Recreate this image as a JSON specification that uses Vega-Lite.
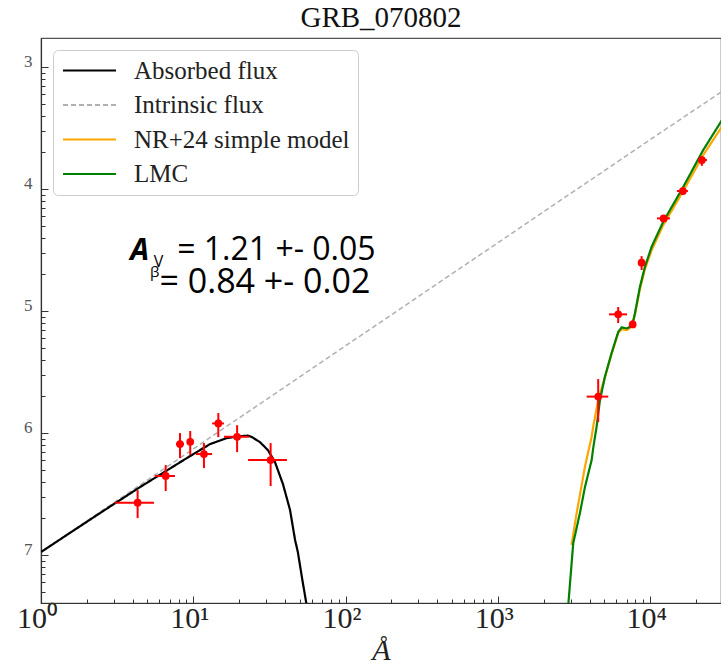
{
  "$schema": "https://vega.github.io/schema/vega-lite/v6.json",
  "width": 680,
  "height": 565,
  "autosize": {"type": "none"},
  "padding": {"left": 41, "top": 38, "right": 0, "bottom": 63},
  "background": "white",
  "title": {"text": "GRB_070802", "font": "Liberation Serif", "fontSize": 29, "fontWeight": "normal", "color": "#111", "offset": 5, "anchor": "middle"},
  "config": {
    "view": {"stroke": "#555", "strokeWidth": 1.2},
    "legend": {
      "symbolType": "M-2.65,0H2.65", "symbolSize": 400, "symbolStrokeWidth": 2, "symbolOffset": 16,
      "labelFont": "Liberation Serif", "labelFontSize": 25, "labelColor": "#222",
      "labelOffset": 32, "padding": 8, "rowPadding": 8.5,
      "fillColor": "white", "strokeColor": "#ccc", "cornerRadius": 5, "labelLimit": 400
    }
  },
  "datasets": {
    "intrinsic": [
      {"series": "Intrinsic flux", "lam": 1, "flux": 1.059e-7},
      {"series": "Intrinsic flux", "lam": 10, "flux": 7.41e-7},
      {"series": "Intrinsic flux", "lam": 100, "flux": 5.19e-6},
      {"series": "Intrinsic flux", "lam": 1000, "flux": 3.63e-5},
      {"series": "Intrinsic flux", "lam": 10000, "flux": 2.54e-4},
      {"series": "Intrinsic flux", "lam": 33000, "flux": 6.9e-4}
    ],
    "absorbed": [
      {"series": "Absorbed flux", "lam": 1, "flux": 1.06e-7},
      {"series": "Absorbed flux", "lam": 2.44, "flux": 2.21e-7},
      {"series": "Absorbed flux", "lam": 4.47, "flux": 3.61e-7},
      {"series": "Absorbed flux", "lam": 6.62, "flux": 4.89e-7},
      {"series": "Absorbed flux", "lam": 9.51, "flux": 6.47e-7},
      {"series": "Absorbed flux", "lam": 12.9, "flux": 8.13e-7},
      {"series": "Absorbed flux", "lam": 16.6, "flux": 9.10e-7},
      {"series": "Absorbed flux", "lam": 20.3, "flux": 9.44e-7},
      {"series": "Absorbed flux", "lam": 22.9, "flux": 9.53e-7},
      {"series": "Absorbed flux", "lam": 24.3, "flux": 9.27e-7},
      {"series": "Absorbed flux", "lam": 27.4, "flux": 8.43e-7},
      {"series": "Absorbed flux", "lam": 30.9, "flux": 7.26e-7},
      {"series": "Absorbed flux", "lam": 34.4, "flux": 5.78e-7},
      {"series": "Absorbed flux", "lam": 38.8, "flux": 3.82e-7},
      {"series": "Absorbed flux", "lam": 43.2, "flux": 2.34e-7},
      {"series": "Absorbed flux", "lam": 46.6, "flux": 1.33e-7},
      {"series": "Absorbed flux", "lam": 48.6, "flux": 1.06e-7},
      {"series": "Absorbed flux", "lam": 51.8, "flux": 6.47e-8},
      {"series": "Absorbed flux", "lam": 55.5, "flux": 3.9e-8}
    ],
    "nr24": [
      {"series": "NR+24 simple model", "lam": 3048, "flux": 1.21e-7},
      {"series": "NR+24 simple model", "lam": 3291, "flux": 2.20e-7},
      {"series": "NR+24 simple model", "lam": 3732, "flux": 5.30e-7},
      {"series": "NR+24 simple model", "lam": 4130, "flux": 9.33e-7},
      {"series": "NR+24 simple model", "lam": 4228, "flux": 1.13e-6},
      {"series": "NR+24 simple model", "lam": 4560, "flux": 1.86e-6},
      {"series": "NR+24 simple model", "lam": 5047, "flux": 2.88e-6},
      {"series": "NR+24 simple model", "lam": 5585, "flux": 4.45e-6},
      {"series": "NR+24 simple model", "lam": 6177, "flux": 6.61e-6},
      {"series": "NR+24 simple model", "lam": 6503, "flux": 7.11e-6},
      {"series": "NR+24 simple model", "lam": 7014, "flux": 6.98e-6},
      {"series": "NR+24 simple model", "lam": 7367, "flux": 7.26e-6},
      {"series": "NR+24 simple model", "lam": 7943, "flux": 9.27e-6},
      {"series": "NR+24 simple model", "lam": 8570, "flux": 1.51e-5},
      {"series": "NR+24 simple model", "lam": 9247, "flux": 2.21e-5},
      {"series": "NR+24 simple model", "lam": 10233, "flux": 3.16e-5},
      {"series": "NR+24 simple model", "lam": 12195, "flux": 5.07e-5},
      {"series": "NR+24 simple model", "lam": 16490, "flux": 9.64e-5},
      {"series": "NR+24 simple model", "lam": 22320, "flux": 1.90e-4},
      {"series": "NR+24 simple model", "lam": 29170, "flux": 3.16e-4},
      {"series": "NR+24 simple model", "lam": 33420, "flux": 4.05e-4}
    ],
    "lmc": [
      {"series": "LMC", "lam": 2880, "flux": 3.5e-8},
      {"series": "LMC", "lam": 3126, "flux": 1.25e-7},
      {"series": "LMC", "lam": 3459, "flux": 2.21e-7},
      {"series": "LMC", "lam": 3732, "flux": 3.61e-7},
      {"series": "LMC", "lam": 4130, "flux": 6.01e-7},
      {"series": "LMC", "lam": 4228, "flux": 7.53e-7},
      {"series": "LMC", "lam": 4453, "flux": 1.13e-6},
      {"series": "LMC", "lam": 4681, "flux": 1.86e-6},
      {"series": "LMC", "lam": 5047, "flux": 2.89e-6},
      {"series": "LMC", "lam": 5585, "flux": 4.53e-6},
      {"series": "LMC", "lam": 6177, "flux": 6.76e-6},
      {"series": "LMC", "lam": 6503, "flux": 7.35e-6},
      {"series": "LMC", "lam": 7014, "flux": 7.21e-6},
      {"series": "LMC", "lam": 7367, "flux": 7.43e-6},
      {"series": "LMC", "lam": 7743, "flux": 8.17e-6},
      {"series": "LMC", "lam": 7943, "flux": 9.57e-6},
      {"series": "LMC", "lam": 8570, "flux": 1.58e-5},
      {"series": "LMC", "lam": 9247, "flux": 2.31e-5},
      {"series": "LMC", "lam": 10233, "flux": 3.37e-5},
      {"series": "LMC", "lam": 12195, "flux": 5.40e-5},
      {"series": "LMC", "lam": 16490, "flux": 1.04e-4},
      {"series": "LMC", "lam": 22320, "flux": 2.09e-4},
      {"series": "LMC", "lam": 29170, "flux": 3.56e-4},
      {"series": "LMC", "lam": 33420, "flux": 4.61e-4}
    ],
    "obs": [
      {"lam": 4.31, "lam_lo": 3.06, "lam_hi": 5.52, "flux": 2.69e-7, "flux_lo": 2.01e-7, "flux_hi": 3.41e-7},
      {"lam": 6.59, "lam_lo": 5.61, "lam_hi": 7.58, "flux": 4.45e-7, "flux_lo": 3.35e-7, "flux_hi": 5.47e-7},
      {"lam": 8.18, "lam_lo": 7.70, "lam_hi": 8.69, "flux": 8.13e-7, "flux_lo": 6.24e-7, "flux_hi": 1.0e-6},
      {"lam": 9.55, "lam_lo": 9.09, "lam_hi": 10.1, "flux": 8.49e-7, "flux_lo": 6.61e-7, "flux_hi": 1.04e-6},
      {"lam": 11.75, "lam_lo": 10.4, "lam_hi": 13.3, "flux": 6.73e-7, "flux_lo": 5.16e-7, "flux_hi": 8.28e-7},
      {"lam": 14.6, "lam_lo": 13.3, "lam_hi": 15.9, "flux": 1.20e-6, "flux_lo": 9.27e-7, "flux_hi": 1.46e-6},
      {"lam": 19.4, "lam_lo": 15.9, "lam_hi": 23.2, "flux": 9.33e-7, "flux_lo": 6.98e-7, "flux_hi": 1.16e-6},
      {"lam": 32.2, "lam_lo": 22.9, "lam_hi": 41.2, "flux": 6.01e-7, "flux_lo": 3.68e-7, "flux_hi": 8.28e-7},
      {"lam": 4560, "lam_lo": 3830, "lam_hi": 5310, "flux": 1.99e-6, "flux_lo": 1.23e-6, "flux_hi": 2.77e-6},
      {"lam": 6170, "lam_lo": 5370, "lam_hi": 7050, "flux": 9.40e-6, "flux_lo": 7.98e-6, "flux_hi": 1.08e-5},
      {"lam": 7680, "lam_lo": 7370, "lam_hi": 8070, "flux": 7.78e-6, "flux_lo": 7.26e-6, "flux_hi": 8.43e-6},
      {"lam": 8790, "lam_lo": 8320, "lam_hi": 9250, "flux": 2.49e-5, "flux_lo": 2.17e-5, "flux_hi": 2.82e-5},
      {"lam": 12270, "lam_lo": 11090, "lam_hi": 13490, "flux": 5.75e-5, "flux_lo": 5.37e-5, "flux_hi": 6.12e-5},
      {"lam": 16410, "lam_lo": 14990, "lam_hi": 17700, "flux": 9.64e-5, "flux_lo": 8.93e-5, "flux_hi": 1.04e-4},
      {"lam": 21880, "lam_lo": 20590, "lam_hi": 23600, "flux": 1.73e-4, "flux_lo": 1.55e-4, "flux_hi": 1.86e-4}
    ],
    "txtA": [{"lam": 3.85, "flux": 2.62e-5, "t": "A"}],
    "txtV": [{"lam": 5.5, "flux": 2.30e-5, "t": "V"}],
    "txt1": [{"lam": 7.84, "flux": 2.62e-5, "t": "= 1.21 +- 0.05"}],
    "txtB": [{"lam": 5.2, "flux": 1.90e-5, "t": "β"}],
    "txt2": [{"lam": 6.0, "flux": 1.41e-5, "t": "= 0.84 +- 0.02"}]
  },
  "resolve": {"axis": {"x": "independent", "y": "independent"}},
  "layer": [
    {
      "data": {"name": "intrinsic"},
      "mark": {"type": "line", "strokeWidth": 1.5, "clip": true},
      "encoding": {
        "x": {"field": "lam", "type": "quantitative",
          "scale": {"type": "log", "domain": [1, 29200], "nice": false},
          "axis": {"orient": "bottom", "values": [1, 10, 100, 1000, 10000], "grid": false,
            "tickSize": -7, "tickColor": "#333", "tickWidth": 1, "domainColor": "#333", "domainWidth": 1.2,
            "labelPadding": 7, "labelOffset": -4, "labelFlush": false, "labelOverlap": false, "labelBound": false,
            "labelExpr": "datum.value == 1 ? '10⁰' : datum.value == 10 ? '10¹' : datum.value == 100 ? '10²' : datum.value == 1000 ? '10³' : '10⁴'",
            "labelFont": "Liberation Serif", "labelFontSize": 30, "labelColor": "#222",
            "title": "Å", "titleFont": "Liberation Serif", "titleFontStyle": "italic", "titleFontWeight": "normal",
            "titleFontSize": 30, "titleColor": "#222", "titlePadding": 2}},
        "y": {"field": "flux", "type": "quantitative",
          "scale": {"type": "log", "domain": [4.05e-8, 1.73e-3], "nice": false},
          "axis": {"orient": "left", "values": [1e-7, 1e-6, 1e-5, 1e-4, 1e-3], "grid": false,
            "tickSize": -7, "tickColor": "#333", "domainColor": "#333", "domainWidth": 1.2,
            "labelPadding": 16, "labelOffset": -6, "labelFlush": false, "labelOverlap": false, "labelBound": false,
            "labelExpr": "'' + round(-log(datum.value) / LN10)",
            "labelFont": "Liberation Serif", "labelFontSize": 17, "labelColor": "#555", "title": null}},
        "color": {"field": "series", "type": "nominal",
          "scale": {"domain": ["Absorbed flux", "Intrinsic flux", "NR+24 simple model", "LMC"], "range": ["#000000", "#b0b0b0", "#ffa500", "#008000"]},
          "legend": {"title": null, "orient": "none", "legendX": 12, "legendY": 12}},
        "strokeDash": {"field": "series", "type": "nominal",
          "scale": {"domain": ["Absorbed flux", "Intrinsic flux", "NR+24 simple model", "LMC"], "range": [[1, 0], [5, 3], [1, 0], [1, 0]]},
          "legend": {"title": null, "orient": "none", "legendX": 12, "legendY": 12}}
      }
    },
    {
      "data": {"name": "absorbed"},
      "mark": {"type": "line", "strokeWidth": 2.2, "clip": true},
      "encoding": {
        "x": {"field": "lam", "type": "quantitative",
          "scale": {"type": "log", "domain": [1, 29200], "nice": false},
          "axis": {"orient": "bottom", "values": [2,3,4,5,6,7,8,9,20,30,40,50,60,70,80,90,200,300,400,500,600,700,800,900,2000,3000,4000,5000,6000,7000,8000,9000,20000],
            "grid": false, "labels": false, "domain": false, "tickSize": -4, "tickColor": "#333", "title": null}},
        "y": {"field": "flux", "type": "quantitative",
          "scale": {"type": "log", "domain": [4.05e-8, 1.73e-3], "nice": false},
          "axis": {"orient": "left", "values": [5e-8,6e-8,7e-8,8e-8,9e-8,2e-7,3e-7,4e-7,5e-7,6e-7,7e-7,8e-7,9e-7,2e-6,3e-6,4e-6,5e-6,6e-6,7e-6,8e-6,9e-6,2e-5,3e-5,4e-5,5e-5,6e-5,7e-5,8e-5,9e-5,2e-4,3e-4,4e-4,5e-4,6e-4,7e-4,8e-4,9e-4],
            "grid": false, "labels": false, "domain": false, "tickSize": -4, "tickColor": "#333", "title": null}},
        "color": {"field": "series", "type": "nominal"},
        "strokeDash": {"field": "series", "type": "nominal"}
      }
    },
    {
      "data": {"name": "nr24"},
      "mark": {"type": "line", "strokeWidth": 2.2, "clip": true},
      "encoding": {
        "x": {"field": "lam", "type": "quantitative", "scale": {"type": "log", "domain": [1, 29200], "nice": false}, "axis": null},
        "y": {"field": "flux", "type": "quantitative", "scale": {"type": "log", "domain": [4.05e-8, 1.73e-3], "nice": false}, "axis": null},
        "color": {"field": "series", "type": "nominal"},
        "strokeDash": {"field": "series", "type": "nominal"}
      }
    },
    {
      "data": {"name": "lmc"},
      "mark": {"type": "line", "strokeWidth": 2.2, "clip": true},
      "encoding": {
        "x": {"field": "lam", "type": "quantitative", "scale": {"type": "log", "domain": [1, 29200], "nice": false}, "axis": null},
        "y": {"field": "flux", "type": "quantitative", "scale": {"type": "log", "domain": [4.05e-8, 1.73e-3], "nice": false}, "axis": null},
        "color": {"field": "series", "type": "nominal"},
        "strokeDash": {"field": "series", "type": "nominal"}
      }
    },
    {
      "data": {"name": "obs"},
      "mark": {"type": "rule", "color": "red", "strokeWidth": 2, "clip": true},
      "encoding": {
        "x": {"field": "lam_lo", "type": "quantitative", "scale": {"type": "log", "domain": [1, 29200], "nice": false}, "axis": null},
        "x2": {"field": "lam_hi"},
        "y": {"field": "flux", "type": "quantitative", "scale": {"type": "log", "domain": [4.05e-8, 1.73e-3], "nice": false}, "axis": null}
      }
    },
    {
      "data": {"name": "obs"},
      "mark": {"type": "rule", "color": "red", "strokeWidth": 2, "clip": true},
      "encoding": {
        "x": {"field": "lam", "type": "quantitative", "scale": {"type": "log", "domain": [1, 29200], "nice": false}, "axis": null},
        "y": {"field": "flux_lo", "type": "quantitative", "scale": {"type": "log", "domain": [4.05e-8, 1.73e-3], "nice": false}, "axis": null},
        "y2": {"field": "flux_hi"}
      }
    },
    {
      "data": {"name": "obs"},
      "mark": {"type": "point", "filled": true, "color": "red", "size": 60, "opacity": 1},
      "encoding": {
        "x": {"field": "lam", "type": "quantitative", "scale": {"type": "log", "domain": [1, 29200], "nice": false}, "axis": null},
        "y": {"field": "flux", "type": "quantitative", "scale": {"type": "log", "domain": [4.05e-8, 1.73e-3], "nice": false}, "axis": null}
      }
    },
    {
      "data": {"name": "txtA"},
      "mark": {"type": "text", "font": "Open Sans", "fontSize": 30, "fontWeight": "bold", "fontStyle": "italic", "align": "left", "baseline": "alphabetic", "color": "black"},
      "encoding": {
        "x": {"field": "lam", "type": "quantitative", "scale": {"type": "log", "domain": [1, 29200], "nice": false}, "axis": null},
        "y": {"field": "flux", "type": "quantitative", "scale": {"type": "log", "domain": [4.05e-8, 1.73e-3], "nice": false}, "axis": null},
        "text": {"field": "t"}
      }
    },
    {
      "data": {"name": "txtV"},
      "mark": {"type": "text", "font": "Open Sans", "fontSize": 16, "align": "left", "baseline": "alphabetic", "color": "black"},
      "encoding": {
        "x": {"field": "lam", "type": "quantitative", "scale": {"type": "log", "domain": [1, 29200], "nice": false}, "axis": null},
        "y": {"field": "flux", "type": "quantitative", "scale": {"type": "log", "domain": [4.05e-8, 1.73e-3], "nice": false}, "axis": null},
        "text": {"field": "t"}
      }
    },
    {
      "data": {"name": "txt1"},
      "mark": {"type": "text", "font": "Open Sans", "fontSize": 32, "align": "left", "baseline": "alphabetic", "color": "black"},
      "encoding": {
        "x": {"field": "lam", "type": "quantitative", "scale": {"type": "log", "domain": [1, 29200], "nice": false}, "axis": null},
        "y": {"field": "flux", "type": "quantitative", "scale": {"type": "log", "domain": [4.05e-8, 1.73e-3], "nice": false}, "axis": null},
        "text": {"field": "t"}
      }
    },
    {
      "data": {"name": "txtB"},
      "mark": {"type": "text", "font": "Open Sans", "fontSize": 15, "align": "left", "baseline": "alphabetic", "color": "black"},
      "encoding": {
        "x": {"field": "lam", "type": "quantitative", "scale": {"type": "log", "domain": [1, 29200], "nice": false}, "axis": null},
        "y": {"field": "flux", "type": "quantitative", "scale": {"type": "log", "domain": [4.05e-8, 1.73e-3], "nice": false}, "axis": null},
        "text": {"field": "t"}
      }
    },
    {
      "data": {"name": "txt2"},
      "mark": {"type": "text", "font": "Open Sans", "fontSize": 34, "align": "left", "baseline": "alphabetic", "color": "black"},
      "encoding": {
        "x": {"field": "lam", "type": "quantitative", "scale": {"type": "log", "domain": [1, 29200], "nice": false}, "axis": null},
        "y": {"field": "flux", "type": "quantitative", "scale": {"type": "log", "domain": [4.05e-8, 1.73e-3], "nice": false}, "axis": null},
        "text": {"field": "t"}
      }
    }
  ]
}
